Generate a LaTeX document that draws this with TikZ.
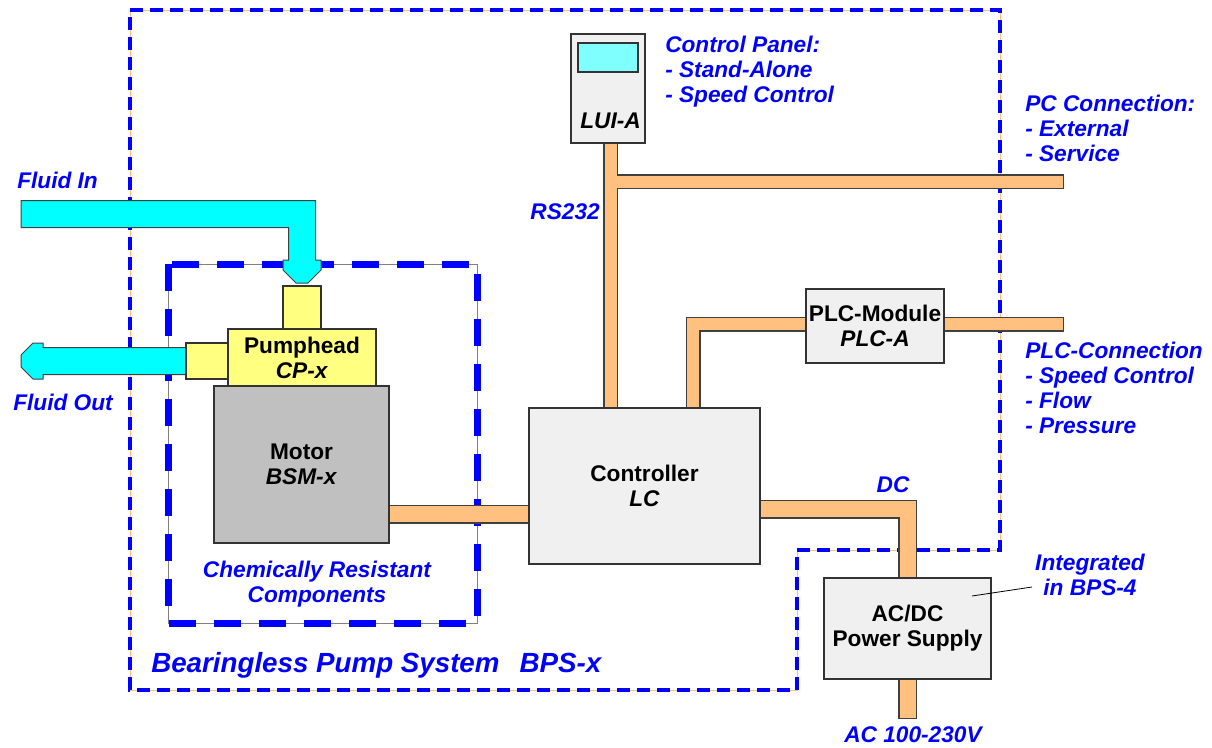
\documentclass[tikz,border=0pt]{standalone}
\usepackage{fontspec}
\setmainfont{Liberation Sans}
\usetikzlibrary{calc}

\definecolor{pipeorange}{RGB}{255,192,128}
\definecolor{fluidcyan}{RGB}{0,255,255}
\definecolor{headyellow}{RGB}{255,255,128}
\definecolor{motorgray}{RGB}{192,192,192}
\definecolor{boxgray}{RGB}{240,240,240}
\definecolor{screencyan}{RGB}{128,255,255}
\definecolor{linkblue}{RGB}{0,0,255}

\pgfdeclarelayer{bg}
\pgfsetlayers{bg,main}

\newcommand\lblfont{\fontsize{17}{18.75}\selectfont\bfseries}

\begin{document}
\begin{tikzpicture}[x=0.75pt,y=0.75pt,yscale=-1,xscale=1,
  unit/.style={draw=black!80, line width=0.8pt, fill=boxgray, inner sep=0pt, outer sep=0pt, align=center, font=\lblfont},
  part/.style={unit, fill=headyellow},
  bluetxt/.style={text=linkblue, font=\lblfont\itshape, inner sep=0pt, align=left},
  datapipe/.style={preaction={draw=black!75, line width=11.25pt, line cap=rect}, draw=pipeorange, line width=9pt, line cap=rect},
  powerpipe/.style={preaction={draw=black!75, line width=14.25pt, line cap=rect}, draw=pipeorange, line width=12pt, line cap=rect},
  fluid/.style={draw=black!75, line width=0.75pt, fill=fluidcyan},
  sysframe/.style={draw=linkblue, line width=3pt, dash pattern=on 9.75pt off 5.25pt},
  partframe/.style={draw=linkblue, line width=5.25pt, dash pattern=on 20.25pt off 13.5pt}]

\useasboundingbox (0,0) rectangle (1212,747);

\node (lui) [unit, minimum width=55.5pt, minimum height=81.75pt] at (608,88.5) {};
\node (screen) [unit, fill=screencyan, minimum width=45pt, minimum height=21.75pt] at (608,57.5) {};
\node (luitxt) [anchor=base, inner sep=0pt, font=\lblfont\itshape] at (610.5,128) {LUI-A};

\node (ctrl) [unit, minimum width=173.25pt, minimum height=117pt] at (644.5,486) {Controller\\\textit{LC}};
\node (plc) [unit, minimum width=103.5pt, minimum height=55.5pt] at (875,326) {PLC-Module\\\textit{PLC-A}};
\node (psu) [unit, minimum width=125.25pt, minimum height=75.75pt] at (907.5,628.5) {AC/DC\\Power Supply};

\node (motor) [unit, fill=motorgray, minimum width=131.25pt, minimum height=117.75pt] at (301.5,464.5) {Motor\\\textit{BSM-x}};
\node (head) [part, minimum width=111pt, minimum height=42.75pt] at (302,357.5) {Pumphead\\\textit{CP-x}};
\node (inlet) [part, minimum width=28.5pt, minimum height=32.25pt] at (302,307.5) {};
\node (outlet) [part, minimum width=31.5pt, minimum height=27pt] at (207,361) {};

\node (cpanel) [bluetxt, anchor=base west] at (665,102) {Control Panel:\\- Stand-Alone\\- Speed Control};
\node (pcconn) [bluetxt, anchor=base west] at (1025,161) {PC Connection:\\- External\\- Service};
\node (plcconn) [bluetxt, anchor=base west] at (1025,433) {PLC-Connection\\- Speed Control\\- Flow\\- Pressure};
\node (rstxt) [bluetxt, anchor=base east] at (600,219) {RS232};
\node (dctxt) [bluetxt, anchor=base] at (893,492) {DC};
\node (actxt) [bluetxt, anchor=base] at (913,742) {AC 100-230V};
\node (intg) [bluetxt, align=center, anchor=base] at (1090,595) {Integrated\\in BPS-4};
\node (fintxt) [bluetxt, anchor=base west] at (17,188) {Fluid In};
\node (fouttxt) [bluetxt, anchor=base west] at (13,410) {Fluid Out};
\node (crc) [bluetxt, align=center, anchor=base] at (317,602) {Chemically Resistant\\Components};
\node (bps) [bluetxt, anchor=base west, font=\fontsize{20.8}{24}\selectfont\bfseries\itshape] at (151,672) {Bearingless Pump System\hspace{15pt}BPS-x};

\coordinate (finend) at (21,214);
\coordinate (foutend) at (21,361);
\coordinate (pcend) at (1056.5,181.5);
\coordinate (plcend) at (1056.5,324);
\coordinate (acend) at (907.5,709.5);

\draw [line width=0.6pt] ($(psu.center)+(64.5,-32.5)$) -- ($(psu.center)+(124.5,-41.5)$);

\begin{pgfonlayer}{bg}
\draw [draw=pipeorange, line width=0.75pt] (130,10) -- (1000,10) -- (1000,550) -- (797,550) -- (797,690) -- (130,690) -- cycle;
\draw [sysframe] (130,10) -- (1000,10) -- (1000,550) -- (797,550) -- (797,690) -- (130,690) -- cycle;
\draw [draw=gray, line width=0.75pt] (168,264) rectangle (477,623);
\draw [partframe] (168,264) rectangle (477,623);

\draw [datapipe] ($(lui.south)+(2.5,0)$) coordinate (rstop) -- (rstop |- ctrl.north)
  (rstop |- pcend) -- (pcend)
  ($(ctrl.north)+(48.5,0)$) |- ($(plc.west)+(0,-2)$)
  ($(plc.east)+(0,-2)$) -- (plcend);

\draw [powerpipe] ($(motor.east)+(0,49.5)$) coordinate (mlink) -- (mlink -| ctrl.west)
  ($(ctrl.east)+(0,23)$) -| (psu.north)
  (psu.south) -- (acend);

\draw [fluid] ($(inlet.north)+(-6,-3)$) -- ++(-13,-13) -- ++(0,-10) -- ++(5.5,0) |- ($(finend)+(0,13.5)$) -- ($(finend)+(0,-13.5)$) -| ($(inlet.north)+(13.5,-26)$) -- ++(5.5,0) -- ++(0,10) -- ++(-13,13) -- cycle;

\draw [fluid] ($(outlet.west)+(0,-13.5)$) -| ($(foutend)+(22,-18)$) -- ++(-10,0) -- ++(-12,12) -- ++(0,12) -- ++(12,12) -- ++(10,0) |- ($(outlet.west)+(0,13.5)$) -- cycle;
\end{pgfonlayer}

\end{tikzpicture}
\end{document}
